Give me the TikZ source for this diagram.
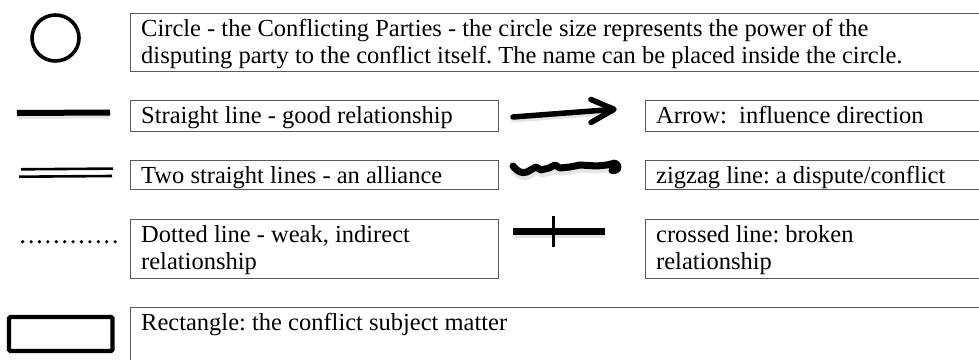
\documentclass[tikz,border=0pt]{standalone}
\usepackage{fontspec}
\setmainfont{Liberation Serif}
\frenchspacing
\begin{document}
\begin{tikzpicture}[x=1pt,y=-1pt,
  legendbox/.style={draw=black!65, line width=1.3pt, anchor=north west, inner sep=0pt, minimum height=#1},
  legendtext/.style={anchor=north west, inner sep=0pt, inner xsep=11pt, align=left,
    font=\fontsize{24.5}{27.5}\selectfont},
  symbol/.style={line width=#1, line cap=round, line join=round},
  softshadow/.style={line width=#1, line cap=round, line join=round, black, opacity=0.1},
]
\path[use as bounding box] (0,0) rectangle (979,359);
\clip (0,0) rectangle (979,359);

% legend boxes
\node[legendbox=58pt, minimum width=855pt] (bcircle) at (130,13) {};
\node[legendbox=31pt, minimum width=368pt] (bline) at (130,100) {};
\node[legendbox=31pt, minimum width=340pt] (barrow) at (645,100) {};
\node[legendbox=29pt, minimum width=368pt] (btwo) at (130,160) {};
\node[legendbox=29pt, minimum width=340pt] (bzig) at (645,160) {};
\node[legendbox=59pt, minimum width=368pt] (bdot) at (130,219) {};
\node[legendbox=59pt, minimum width=340pt] (bcross) at (645,219) {};
\node[legendbox=70pt, minimum width=855pt] (brect) at (130,307) {};

% descriptions
\node[legendtext] (tcircle) at (bcircle.north west) {\rule{0pt}{23pt}Circle - the Conflicting Parties - the circle size represents the power of the\\disputing party to the conflict itself. The name can be placed inside the circle.};
\node[legendtext] (tline) at (bline.north west) {\rule{0pt}{23pt}Straight line - good relationship};
\node[legendtext] (tarrow) at (barrow.north west) {\rule{0pt}{23pt}Arrow:\ \ influence direction};
\node[legendtext] (ttwo) at (btwo.north west) {\rule{0pt}{23pt}Two straight lines - an alliance};
\node[legendtext] (tzig) at (bzig.north west) {\rule{0pt}{23pt}zigzag line: a dispute/conflict};
\node[legendtext] (tdot) at (bdot.north west) {\rule{0pt}{23pt}Dotted line - weak, indirect\\relationship};
\node[legendtext] (tcross) at (bcross.north west) {\rule{0pt}{23pt}crossed line: broken\\relationship};
\node[legendtext] (trect) at (brect.north west) {\rule{0pt}{23pt}Rectangle: the conflict subject matter};

% circle symbol
\draw[line width=3.6pt] (55.5,38) ellipse [x radius=23.5, y radius=23];

% straight line
\draw[softshadow=7pt, line cap=butt] (18,115.5) -- (109,115);
\draw[symbol=6pt, line cap=butt] (17,113) -- (110,112.5);

% two straight lines
\draw[symbol=2.6pt, line cap=butt] (21,169.3) -- (113,168.6);
\draw[symbol=2.6pt, line cap=butt] (19,176.7) -- (112,176);

% dotted line
\foreach \i in {0,...,11}
  \fill (22.7+8.4*\i,241.7) circle (1.8);

% arrow
\draw[softshadow=7pt] (514,119) -- (612,111.5);
\draw[symbol=5.5pt] (513,117) -- (612,109.5);
\draw[symbol=5.5pt] (591,99.5) -- (614,109.3) -- (591,122.5);

% zigzag line
\draw[softshadow=9pt] (514,169) .. controls (518,174) and (522,177) .. (528,175)
  -- (537,170) -- (542,173) -- (550,171) -- (555,168) -- (560,171) -- (570,170)
  -- (580,168) -- (597,169) -- (607,168) -- (614,166);
\draw[symbol=7pt] (513,166) .. controls (517,171) and (521,174) .. (527,172)
  -- (536,167) -- (541,170) -- (549,168) -- (555,165) -- (560,168) -- (570,167)
  -- (580,165) -- (597,166) -- (607,165) -- (615,163)
  .. controls (620,166) and (619,171) .. (612,170.5);

% crossed line
\draw[softshadow=8pt, line cap=butt] (514,234) -- (605,234);
\draw[symbol=6.5pt, line cap=butt] (513,231.7) -- (605,231.7);
\draw[symbol=3pt, line cap=butt] (553,216) -- (553,247);

% rectangle symbol
\draw[line width=4.4pt, rounded corners=1.5pt] (9,317) rectangle (112.5,351);
\end{tikzpicture}
\end{document}
